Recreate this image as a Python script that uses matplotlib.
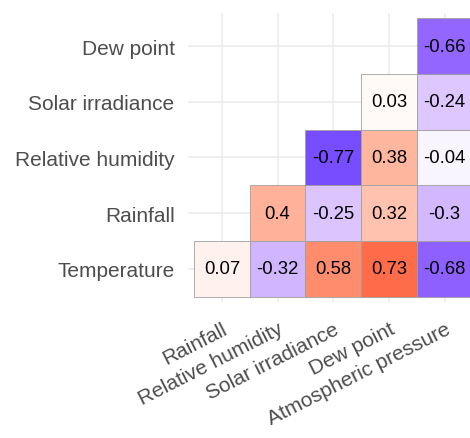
import numpy as np
import matplotlib
matplotlib.use("Agg")
import matplotlib.pyplot as plt
from matplotlib.colors import ListedColormap, Normalize
from matplotlib.patches import Rectangle

plt.rcParams['font.family'] = ['Liberation Sans', 'DejaVu Sans']

x_vars = ['Rainfall', 'Relative humidity', 'Solar irradiance', 'Dew point',
          'Atmospheric pressure']
y_vars = ['Temperature', 'Rainfall', 'Relative humidity', 'Solar irradiance',
          'Dew point']

# lower triangle of the correlation matrix, rows follow y_vars (bottom to top)
nan = np.nan
temperature = [0.07, -0.32, 0.58, 0.73, -0.68]
rainfall = [nan, 0.4, -0.25, 0.32, -0.3]
rel_humidity = [nan, nan, -0.77, 0.38, -0.04]
solar = [nan, nan, nan, 0.03, -0.24]
dew_point = [nan, nan, nan, nan, -0.66]
corr = np.array([temperature, rainfall, rel_humidity, solar, dew_point])


def srgb_to_lab(rgb):
    rgb = np.asarray(rgb, dtype=float)
    lin = np.where(rgb <= 0.04045, rgb / 12.92, ((rgb + 0.055) / 1.055) ** 2.4)
    m = np.array([[0.4124, 0.3576, 0.1805],
                  [0.2126, 0.7152, 0.0722],
                  [0.0193, 0.1192, 0.9505]])
    xyz = lin @ m.T / np.array([0.95047, 1.0, 1.08883])
    f = np.where(xyz > 216 / 24389, np.cbrt(xyz), (24389 / 27 * xyz + 16) / 116)
    return np.stack([116 * f[..., 1] - 16,
                     500 * (f[..., 0] - f[..., 1]),
                     200 * (f[..., 1] - f[..., 2])], axis=-1)


def lab_to_srgb(lab):
    lab = np.asarray(lab, dtype=float)
    fy = (lab[..., 0] + 16) / 116
    fx = fy + lab[..., 1] / 500
    fz = fy - lab[..., 2] / 200
    f = np.stack([fx, fy, fz], axis=-1)
    xyz = np.where(f ** 3 > 216 / 24389, f ** 3, (116 * f - 16) / (24389 / 27))
    xyz = xyz * np.array([0.95047, 1.0, 1.08883])
    m_inv = np.array([[3.2406, -1.5372, -0.4986],
                      [-0.9689, 1.8758, 0.0415],
                      [0.0557, -0.2040, 1.0570]])
    lin = np.clip(xyz @ m_inv.T, 0, 1)
    rgb = np.where(lin <= 0.0031308, 12.92 * lin, 1.055 * lin ** (1 / 2.4) - 0.055)
    return np.clip(rgb, 0, 1)


# blue - white - red, blended in Lab space
anchors = srgb_to_lab([[0, 0, 1], [1, 1, 1], [1, 0, 0]])
t = np.linspace(0, 1, 256)
lab = np.empty((256, 3))
for k in range(3):
    lab[:, k] = np.interp(t, [0, 0.5, 1], anchors[:, k])
cmap = ListedColormap(lab_to_srgb(lab))
norm = Normalize(vmin=-1, vmax=1)

fig = plt.figure(figsize=(4.7, 4.39), dpi=100)
ax = fig.add_axes([0.401, 0.309, 0.616, 0.66])

for i in range(len(y_vars)):
    for j in range(len(x_vars)):
        v = corr[i, j]
        if np.isnan(v):
            continue
        ax.add_patch(Rectangle((j - 0.5, i - 0.5), 1, 1, facecolor=cmap(norm(v)),
                               edgecolor='#a0a0a0', linewidth=0.6, zorder=2))
        ax.text(j, i, '%g' % v, ha='center', va='center', fontsize=13.3,
                color='black', zorder=3)

ax.set_xlim(-0.6, len(x_vars) - 0.4)
ax.set_ylim(-0.6, len(y_vars) - 0.4)
ax.set_xticks(range(len(x_vars)))
ax.set_yticks(range(len(y_vars)))
ax.set_xticklabels(x_vars, rotation=27, ha='right', va='top',
                   rotation_mode='anchor', fontsize=15, color='#4d4d4d')
ax.set_yticklabels(y_vars, fontsize=15, color='#4d4d4d')
ax.tick_params(length=0, pad=10)
ax.tick_params(axis='x', pad=12)
ax.grid(True, color='#ebebeb', linewidth=1.1, zorder=0)
ax.set_axisbelow(True)
for s in ax.spines.values():
    s.set_visible(False)

fig.savefig('out.png', dpi=100)
